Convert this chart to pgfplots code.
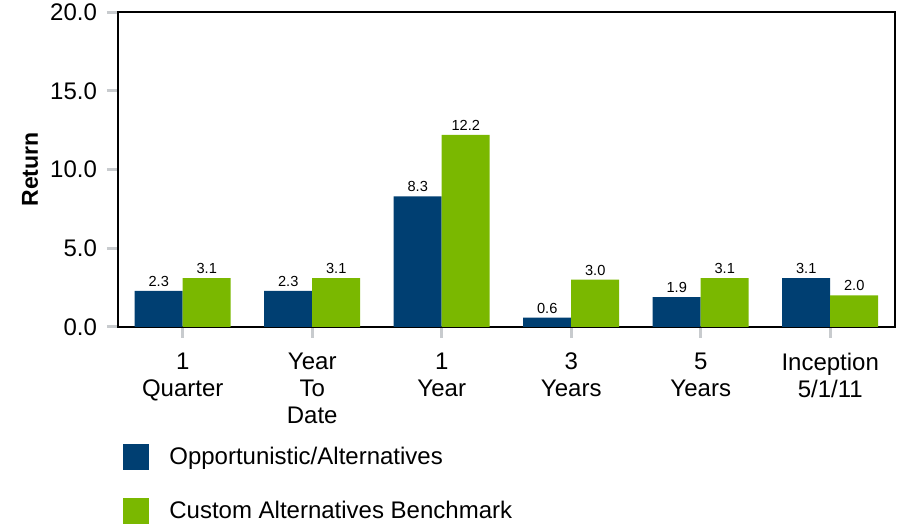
\documentclass[border=0pt]{standalone}
\usepackage{pgfplots}
\pgfplotsset{compat=1.18}
\usepackage{fontspec}
\setmainfont{Liberation Sans}
\definecolor{navy}{HTML}{003F72}
\definecolor{lgreen}{HTML}{7AB800}
\definecolor{tickgray}{HTML}{C8CBCE}
\begin{document}
\begin{tikzpicture}
\useasboundingbox (-59pt,-101.5pt) rectangle (394.5pt,163.5pt);
\begin{axis}[
  at={(0,0)}, anchor=south west,
  scale only axis, width=388.5pt, height=157.5pt,
  ybar=0pt, bar width=24pt,
  xmin=-0.5, xmax=5.5, ymin=0, ymax=20,
  xtick={0,...,5},
  xticklabels={{1\\Quarter},{Year\\To\\Date},{1\\Year},{3\\Years},{5\\Years},{Inception\\5/1/11}},
  ytick={0,5,10,15,20},
  xtick pos=bottom, ytick pos=left,
  tick align=outside,
  major tick length=5.5pt,
  major tick style={draw=tickgray, line width=1.5pt},
  axis line style={black, line width=1pt},
  xticklabel style={align=center, font=\fontsize{12}{13.5}\selectfont, yshift=-4pt},
  yticklabel style={font=\fontsize{12}{14}\selectfont, xshift=-1.5pt},
  ylabel={Return},
  ylabel style={font=\bfseries\fontsize{11.5}{13}\selectfont, at={(axis description cs:-0.113,0.5)}, anchor=center},
  nodes near coords,
  nodes near coords style={font=\fontsize{7.3}{8}\selectfont, black, inner sep=2pt},
  legend style={at={(0.0064,-0.366)}, anchor=north west, draw=none, fill=none, inner sep=0pt,
    row sep=13pt, column sep=8pt, font=\fontsize{12}{14}\selectfont,
    every even column/.style={yshift=-2.5pt}},
  legend cell align=left,
  legend image code/.code={\fill[#1] (0pt,-6.5pt) rectangle (13pt,6.5pt);},
  /pgf/number format/.cd, fixed, fixed zerofill, precision=1, assume math mode=true
]
\addplot[fill=navy, draw=none] coordinates {(0,2.3) (1,2.3) (2,8.3) (3,0.6) (4,1.9) (5,3.1)};
\addlegendentry{Opportunistic/Alternatives}
\addplot[fill=lgreen, draw=none] coordinates {(0,3.1) (1,3.1) (2,12.2) (3,3.0) (4,3.1) (5,2.0)};
\addlegendentry{Custom Alternatives Benchmark}
\end{axis}
\end{tikzpicture}
\end{document}
